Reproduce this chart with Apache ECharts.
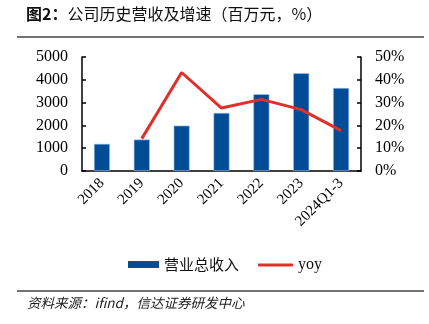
<!DOCTYPE html>
<html><head><meta charset="utf-8">
<script src="https://cdn.jsdelivr.net/npm/echarts@6/dist/echarts.min.js"></script>
<style>html,body{margin:0;padding:0;background:#fff}#c{width:429px;height:324px}</style>
</head><body><div id="c"></div>
<script>
var categories = ['2018','2019','2020','2021','2022','2023','2024Q1-3'];
var revenue = [1190, 1380, 1990, 2550, 3370, 4290, 3640];
var yoy = [null, 14.2, 43.2, 27.6, 31.4, 26.9, 17.7];
var leftTicks = {min:0, max:5000, interval:1000};
var rightTicks = {min:0, max:50, interval:10};

var serif = '"Liberation Serif","DejaVu Serif",serif';
var cjk = '"Noto Sans CJK SC",sans-serif';
var chart = echarts.init(document.getElementById('c'));
chart.setOption({
  animation:false,
  backgroundColor:'#fff',
  grid:{left:82, right:68, top:57, bottom:153},
  graphic:[
    {type:'text', left:26, top:6, style:{text:'{b|图2：}{n|公司历史营收及增速（百万元，%）}', rich:{b:{fontFamily:cjk,fontWeight:'bold',fontSize:16,fill:'#111'}, n:{fontFamily:cjk,fontSize:16,fill:'#111'}}}},
    {type:'line', shape:{x1:17,y1:37,x2:424,y2:37}, style:{stroke:'#444',lineWidth:1.5}},
    {type:'line', shape:{x1:17,y1:291,x2:424,y2:291}, style:{stroke:'#444',lineWidth:1.5}},
    {type:'text', left:27, top:296, style:{text:'资料来源：ifind，信达证券研发中心', fontFamily:cjk, fontStyle:'italic', fontSize:13.5, fill:'#222'}}
  ],
  legend:[
    {left:123, top:252, itemWidth:31, itemHeight:7,
     textStyle:{fontFamily:cjk, fontSize:15, color:'#111'},
     data:[{name:'营业总收入', icon:'rect', itemStyle:{borderWidth:0}}]},
    {left:253, top:252, itemWidth:35, itemHeight:3,
     textStyle:{fontFamily:serif, fontSize:16, color:'#111'},
     data:[{name:'yoy', icon:'roundRect'}]}
  ],
  xAxis:{
    type:'category', data:categories,
    axisLine:{lineStyle:{color:'#000', width:1.5}},
    axisTick:{show:false},
    axisLabel:{rotate:45, margin:10, fontFamily:serif, fontSize:15, color:'#000', interval:0}
  },
  yAxis:[
    {type:'value', min:leftTicks.min, max:leftTicks.max, interval:leftTicks.interval,
     axisLine:{show:true, lineStyle:{color:'#000', width:1.5}},
     axisTick:{show:true, inside:true, length:4, lineStyle:{color:'#000', width:1.5}},
     axisLabel:{margin:14, fontFamily:serif, fontSize:16, color:'#000', formatter:function(v){return String(v);}},
     splitLine:{show:false}},
    {type:'value', min:rightTicks.min, max:rightTicks.max, interval:rightTicks.interval, position:'right',
     axisLine:{show:true, lineStyle:{color:'#000', width:1.5}},
     axisTick:{show:true, inside:true, length:4, lineStyle:{color:'#000', width:1.5}},
     axisLabel:{margin:14, fontFamily:serif, fontSize:16, color:'#000', formatter:'{value}%'},
     splitLine:{show:false}}
  ],
  series:[
    {name:'营业总收入', type:'bar', data:revenue, barWidth:16,
     itemStyle:{color:'#004C97', borderColor:'#A9C6E8', borderWidth:0.6}},
    {name:'yoy', type:'line', yAxisIndex:1, data:yoy, symbol:'none', connectNulls:false,
     lineStyle:{color:'#E0302B', width:3}, itemStyle:{color:'#E0302B'}}
  ]
});
</script></body></html>
